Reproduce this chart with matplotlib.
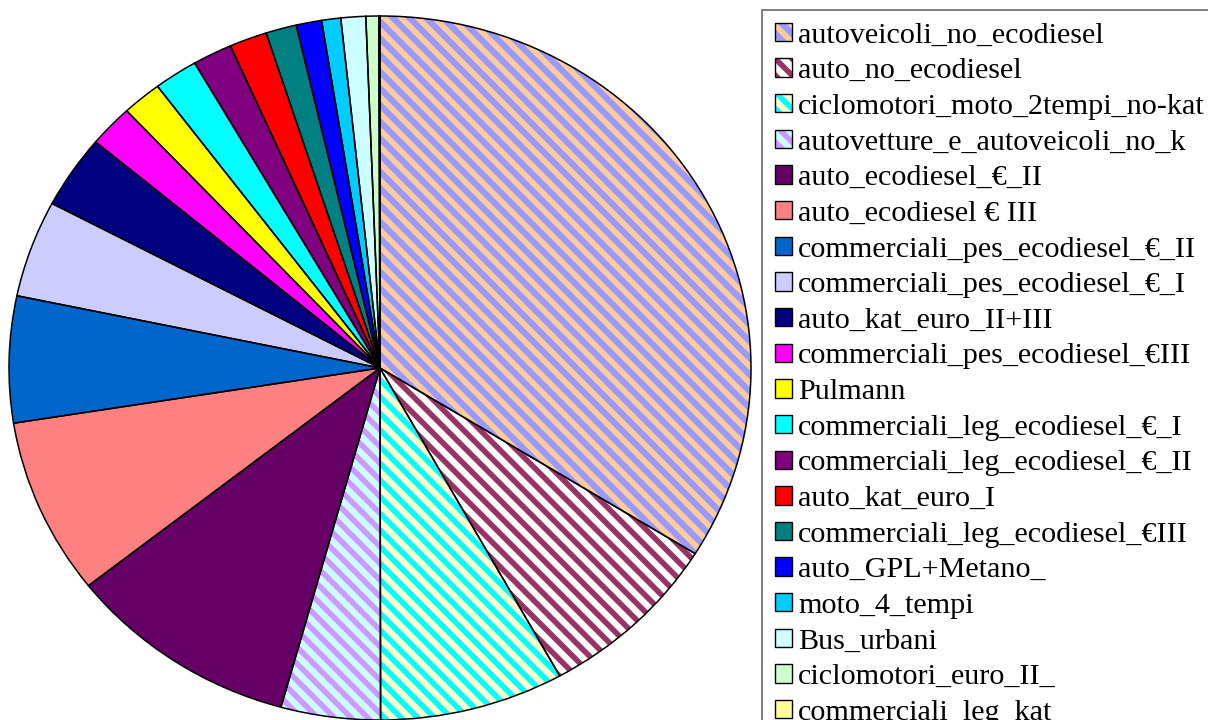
import matplotlib
matplotlib.use("Agg")
import matplotlib.pyplot as plt
from matplotlib.patches import Patch

# categories (legend order = clockwise order from 12 o'clock)
labels = ["autoveicoli_no_ecodiesel", "auto_no_ecodiesel", "ciclomotori_moto_2tempi_no-kat",
          "autovetture_e_autoveicoli_no_k", "auto_ecodiesel_€_II", "auto_ecodiesel € III",
          "commerciali_pes_ecodiesel_€_II", "commerciali_pes_ecodiesel_€_I", "auto_kat_euro_II+III",
          "commerciali_pes_ecodiesel_€III", "Pulmann", "commerciali_leg_ecodiesel_€_I",
          "commerciali_leg_ecodiesel_€_II", "auto_kat_euro_I", "commerciali_leg_ecodiesel_€III",
          "auto_GPL+Metano_", "moto_4_tempi", "Bus_urbani", "ciclomotori_euro_II_",
          "commerciali_leg_kat"]
# shares (%)
values = [33.86, 8.11, 8.03, 4.33, 10.09, 8.11, 5.80, 4.45, 3.36, 1.94,
          1.73, 1.91, 1.72, 1.64, 1.34, 1.11, 0.83, 1.08, 0.56, 0.05]
fills = ["#9999FF", "#FFFFFF", "#FFFFCC", "#CCFFFF", "#660066", "#FF8080", "#0066CC",
         "#CCCCFF", "#000080", "#FF00FF", "#FFFF00", "#00FFFF", "#800080", "#FF0000",
         "#008080", "#0000FF", "#00CCFF", "#CCFFFF", "#CCFFCC", "#FFFF99"]
stripes = ["#FFCC99", "#993366", "#00FFFF", "#CC99FF"] + [None] * 16

HATCH_LW = 4.0
plt.rcParams["hatch.linewidth"] = HATCH_LW
plt.rcParams["font.family"] = ["Liberation Serif", "DejaVu Serif"]

W, H = 1208, 720
fig = plt.figure(figsize=(W / 100, H / 100), dpi=100)
cx, cy, rx, ry = 380, 368, 371, 352
ax = fig.add_axes([(cx - rx) / W, (H - cy - ry) / H, 2 * rx / W, 2 * ry / H])


def stripe(p, color):
    p.set_hatch("\\\\")
    p.set_edgecolor(color)
    if hasattr(p, "set_hatch_linewidth"):
        p.set_hatch_linewidth(HATCH_LW)


# fill layer (with stripes as hatch)
wedges, _ = ax.pie(values, colors=fills, startangle=90, counterclock=False,
                   wedgeprops=dict(linewidth=0))
for w, s in zip(wedges, stripes):
    if s:
        stripe(w, s)
# outline layer
ax.pie(values, colors=["none"] * len(values), startangle=90, counterclock=False,
       wedgeprops=dict(linewidth=1.1, edgecolor="black"))
ax.set_aspect("auto")
ax.set_xlim(-1.0, 1.0)
ax.set_ylim(-1.0, 1.0)
ax.axis("off")

handles = []
for f, s in zip(fills, stripes):
    if s:
        p = Patch(facecolor=f, linewidth=0)
        stripe(p, s)
        h = (p, Patch(facecolor="none", edgecolor="black", linewidth=1.0))
    else:
        h = Patch(facecolor=f, edgecolor="black", linewidth=1.0)
    handles.append(h)

leg = fig.legend(handles, labels, loc="upper left", bbox_to_anchor=(762 / W, 1 - 10 / H),
                 fontsize=21.7, frameon=True, fancybox=False, borderpad=0.42,
                 labelspacing=0.32, handlelength=0.56, handleheight=0.56,
                 handletextpad=0.22, borderaxespad=0)
leg.get_frame().set_edgecolor("#444444")
leg.get_frame().set_linewidth(1.2)

fig.savefig("out.png", dpi=100)
